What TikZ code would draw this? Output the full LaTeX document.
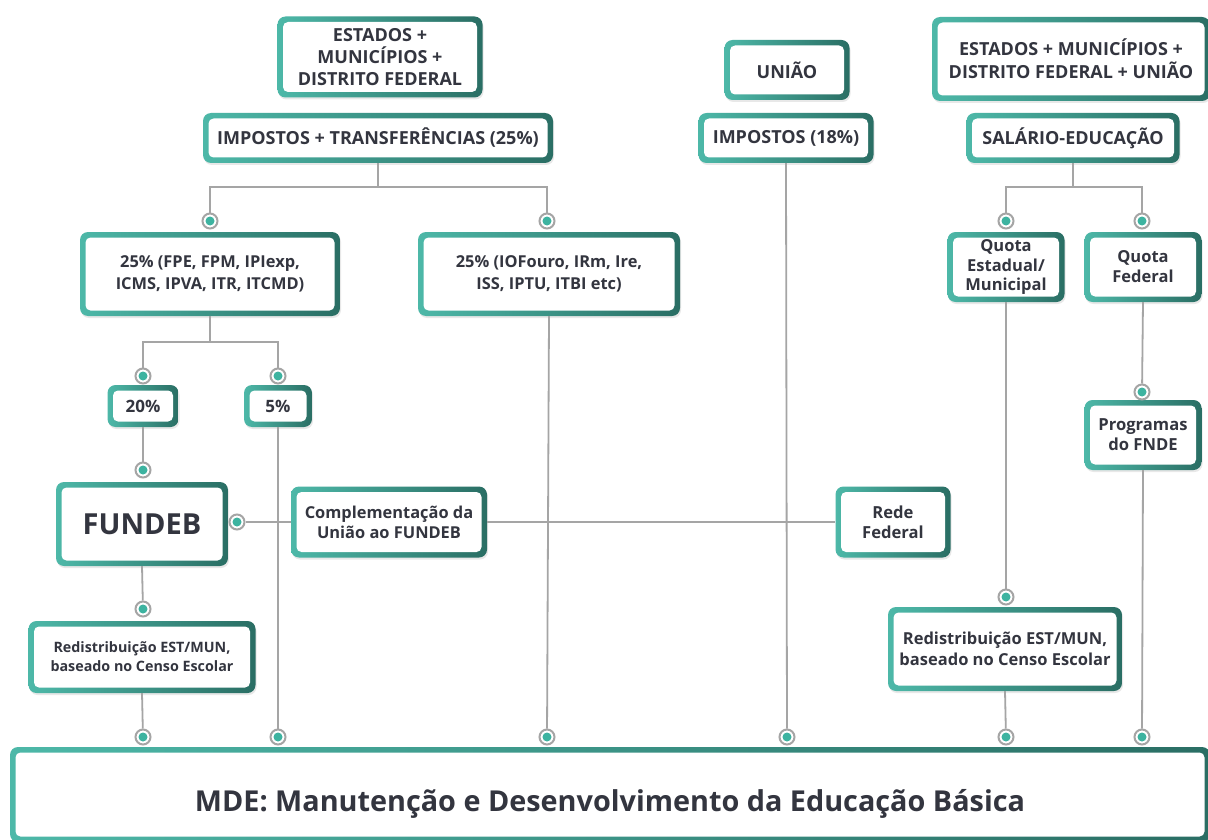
\documentclass[tikz,border=0pt]{standalone}
\usepackage{fontspec}
\setmainfont{Open Sans}
\usetikzlibrary{shadows}
\definecolor{tealL}{HTML}{4DB8A8}
\definecolor{tealD}{HTML}{2A6E64}
\definecolor{txt}{HTML}{33353F}
\definecolor{linegray}{HTML}{A5A5A5}
\definecolor{dotteal}{HTML}{3DB3A0}
\newcommand{\fs}[2]{\fontsize{#1}{#2}\selectfont}
\tikzset{
  boxs/.style={rounded corners=8pt, align=center, text=txt, inner sep=2pt,
    font=\bfseries,
    drop shadow={opacity=0.18, shadow xshift=1pt, shadow yshift=-2pt},
    path picture={
      \shade[left color=tealL, right color=tealD]
        (path picture bounding box.south west) rectangle (path picture bounding box.north east);
      \fill[white, rounded corners=5pt]
        ([shift={(5.5pt,5.5pt)}]path picture bounding box.south west) rectangle
        ([shift={(-5.5pt,-5.5pt)}]path picture bounding box.north east);
    }},
  dotc/.style={circle, draw=linegray, line width=2pt, fill=white, minimum size=15pt, inner sep=0pt,
    path picture={\fill[dotteal] (path picture bounding box.center) circle (4.5pt);}},
  link/.style={draw=linegray, line width=1.8pt}
}
\begin{document}
\begin{tikzpicture}[x=1pt,y=-1pt]
\useasboundingbox[fill=white] (0,0) rectangle (1208,840);

% ---- boxes ----
\node[boxs, minimum width=205pt, minimum height=81pt, font=\bfseries\fs{18}{22}] (emd) at (380,57) {ESTADOS +\\MUNICÍPIOS +\\DISTRITO FEDERAL};
\node[boxs, minimum width=350pt, minimum height=50pt, font=\bfseries\fs{18}{22}] (imp) at (378,138) {IMPOSTOS + TRANSFERÊNCIAS (25\%)};
\node[boxs, minimum width=125pt, minimum height=60pt, font=\bfseries\fs{18}{22}] (uni) at (787,70) {UNIÃO};
\node[boxs, minimum width=175pt, minimum height=50pt, font=\bfseries\fs{18}{22}] (imp18) at (786,138) {IMPOSTOS (18\%)};
\node[boxs, minimum width=278pt, minimum height=84pt, font=\bfseries\fs{18}{23}] (emdu) at (1071,59) {ESTADOS + MUNICÍPIOS +\\DISTRITO FEDERAL + UNIÃO};
\node[boxs, minimum width=213pt, minimum height=50pt, font=\bfseries\fs{18}{22}] (sal) at (1073,138) {SALÁRIO-EDUCAÇÃO};

\node[boxs, minimum width=260pt, minimum height=84pt, font=\bfseries\fs{16.4}{22}] (p25a) at (210,274) {25\% (FPE, FPM, IPIexp,\\ICMS, IPVA, ITR, ITCMD)};
\node[boxs, minimum width=262pt, minimum height=84pt, font=\bfseries\fs{16.4}{22}] (p25b) at (549,274) {25\% (IOFouro, IRm, Ire,\\ISS, IPTU, ITBI etc)};
\node[boxs, minimum width=117pt, minimum height=70pt, font=\bfseries\fs{16.5}{19.5}] (qe) at (1006,267) {Quota\\Estadual/\\Municipal};
\node[boxs, minimum width=117pt, minimum height=70pt, font=\bfseries\fs{16.5}{20}] (qf) at (1143,267) {Quota\\Federal};

\node[boxs, minimum width=71pt, minimum height=42pt, font=\bfseries\fs{17}{20}] (p20) at (143,406) {20\%};
\node[boxs, minimum width=68pt, minimum height=42pt, font=\bfseries\fs{17}{20}] (p5) at (278,406) {5\%};
\node[boxs, minimum width=117pt, minimum height=70pt, font=\bfseries\fs{16.6}{20}] (fnde) at (1143,435) {Programas\\do FNDE};

\node[boxs, minimum width=172pt, minimum height=84pt, font=\bfseries\fs{29}{34}] (fundeb) at (142,524) {FUNDEB};
\node[boxs, minimum width=196pt, minimum height=71pt, font=\bfseries\fs{16.4}{20}] (comp) at (389,522) {Complementação da\\União ao FUNDEB};
\node[boxs, minimum width=115pt, minimum height=71pt, font=\bfseries\fs{16.6}{20}] (rede) at (893,522) {Rede\\Federal};

\node[boxs, minimum width=227pt, minimum height=72pt, font=\bfseries\fs{14.3}{19}] (redl) at (142,657) {Redistribuição EST/MUN,\\baseado no Censo Escolar};
\node[boxs, minimum width=234pt, minimum height=84pt, font=\bfseries\fs{16.5}{21}] (redr) at (1005,649) {Redistribuição EST/MUN,\\baseado no Censo Escolar};

\node[boxs, minimum width=1200pt, minimum height=95pt, text height=34pt, text depth=0pt, font=\bfseries\fs{28.8}{32}] (mde) at (610,794.5) {MDE: Manutenção e Desenvolvimento da Educação Básica};

% ---- junctions ----
\coordinate (j1) at (378,187);
\coordinate (j2) at (210,342);
\coordinate (j3) at (1073,187);

% ---- dots ----
\node[dotc] (d25a) at (210,221) {};
\node[dotc] (d25b) at (547,221) {};
\node[dotc] (dqe) at (1006,221) {};
\node[dotc] (dqf) at (1142,221) {};
\node[dotc] (d20) at (143,376) {};
\node[dotc] (d5) at (278,376) {};
\node[dotc] (dfnde) at (1142,392) {};
\node[dotc] (dfun) at (143,470) {};
\node[dotc] (dcomp) at (237,522) {};
\node[dotc] (dredl) at (143,609) {};
\node[dotc] (dredr) at (1006,597) {};
\node[dotc] (m1) at (143,737) {};
\node[dotc] (m2) at (278,737) {};
\node[dotc] (m3) at (547,737) {};
\node[dotc] (m4) at (787,737) {};
\node[dotc] (m5) at (1006,737) {};
\node[dotc] (m6) at (1142,737) {};

% ---- connectors ----
\draw[link] (imp.south) -- (j1);
\draw[link] (j1) -| (d25a);
\draw[link] (j1) -| (d25b);
\draw[link] (sal.south) -- (j3);
\draw[link] (j3) -| (dqe);
\draw[link] (j3) -| (dqf);
\draw[link] (p25a.south) -- (j2);
\draw[link] (j2) -| (d20);
\draw[link] (j2) -| (d5);
\draw[link] (p20.south) -- (dfun);
\draw[link] (fundeb.south) -- (dredl);
\draw[link] (redl.south) -- (m1);
\draw[link] (p5.south) -- (m2);
\draw[link] (p25b.south) -- (m3);
\draw[link] (imp18.south) -- (m4);
\draw[link] (qe.south) -- (dredr);
\draw[link] (redr.south) -- (m5);
\draw[link] (qf.south) -- (dfnde);
\draw[link] (fnde.south) -- (m6);
\draw[link] (dcomp) -- (comp.west);
\draw[link] (comp.east) -- (rede.west);
\end{tikzpicture}
\end{document}
